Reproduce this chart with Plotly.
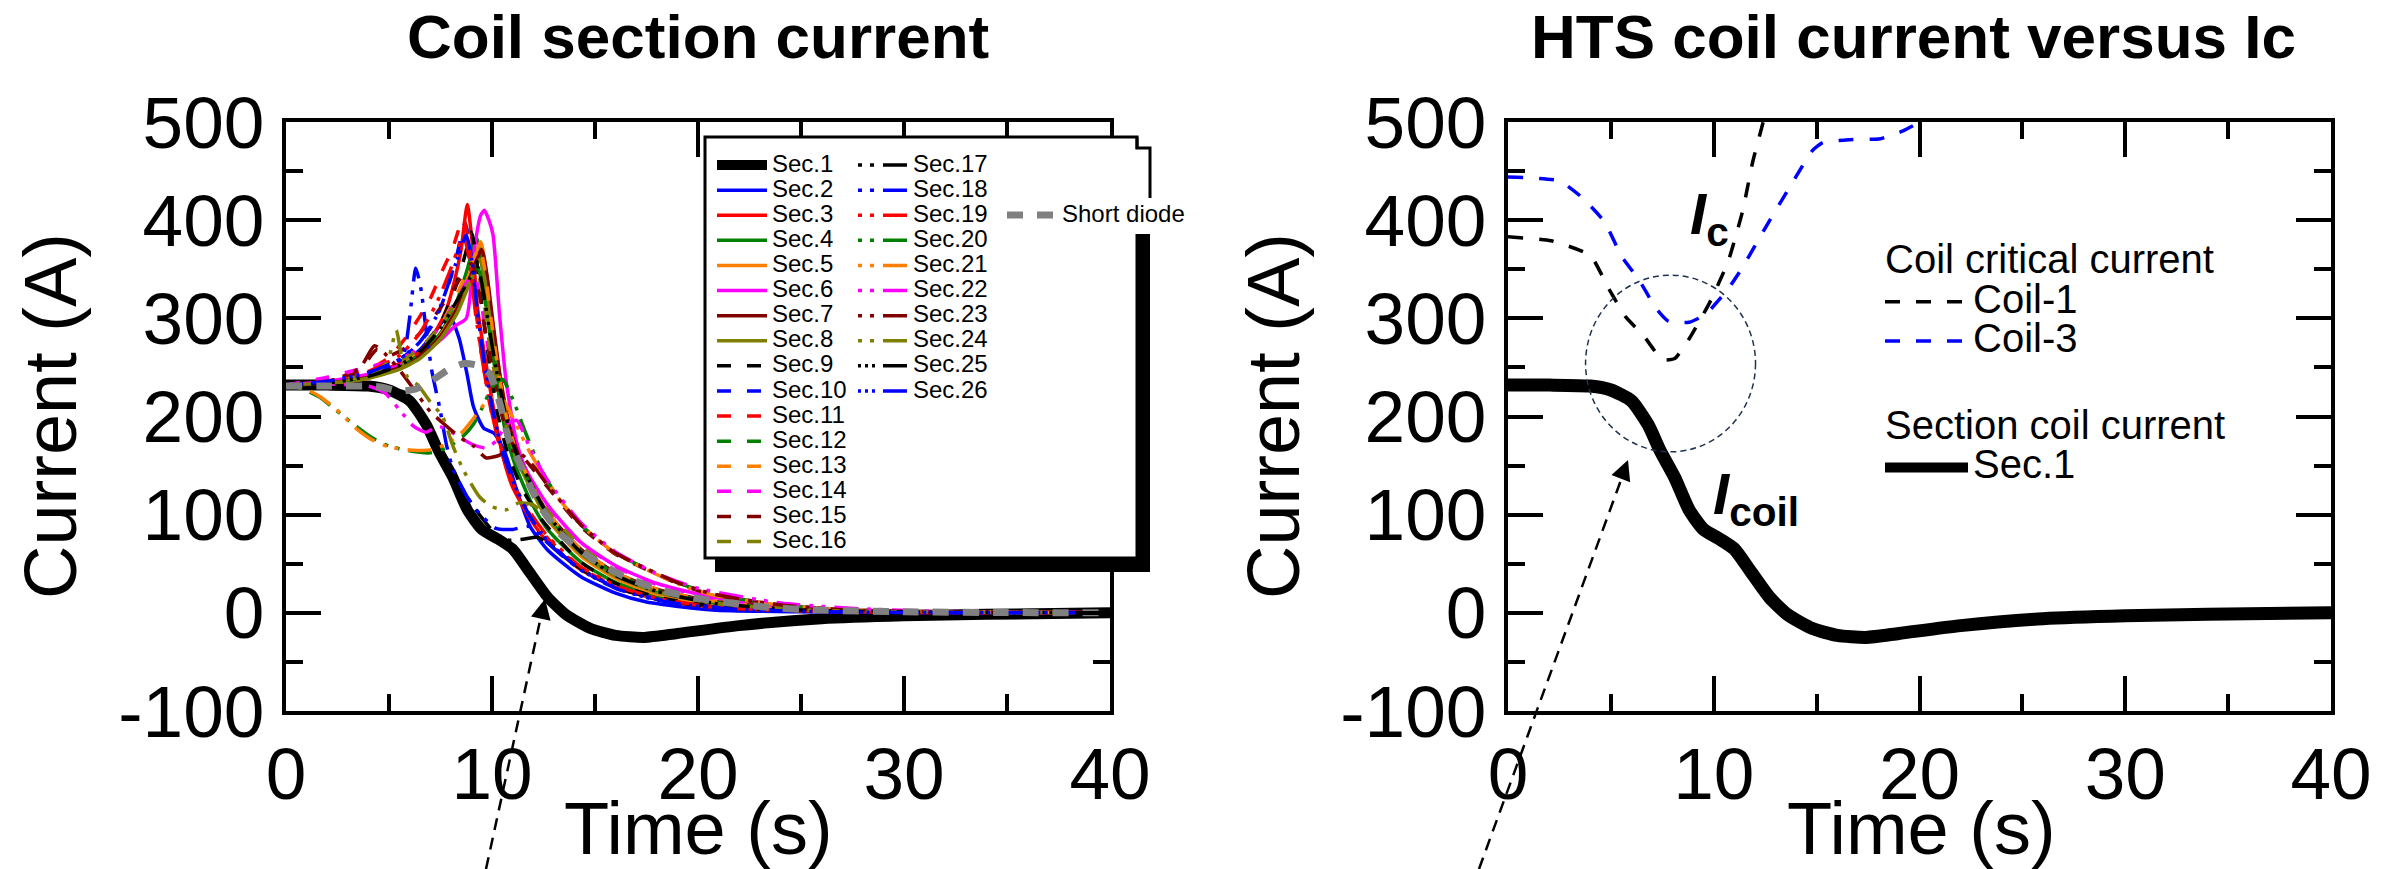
import plotly.graph_objects as go

FONT = "Liberation Sans, Arial, sans-serif"
W, H = 2400, 869

# ---------------- data (time in s, current in A) ----------------
SEC1_T = [0, 2, 4, 5, 6, 6.8, 7.4, 8.1, 8.8, 9.5, 10.3, 11.0, 11.8, 12.7, 13.6, 14.8, 16, 17.4, 19, 22, 26, 30, 34, 40]
SEC1_I = [232, 232, 231, 227, 216, 192, 165, 138, 105, 85, 75, 65, 42, 16, -2, -16, -23, -25, -21, -13, -6, -3, -1.5, 0]

SEC2_T = [0, 2, 4, 5.5, 6.5, 7.3, 7.9, 8.4, 8.8, 9.1, 9.6, 10.1, 10.6, 11.2, 11.85, 12.7, 14.3, 16, 17.5, 20.7, 25, 30, 40]
SEC2_I = [232, 234, 240, 252, 268, 288, 304, 280, 242, 210, 188, 183, 165, 125, 88, 64, 37, 20, 11, 3, 1, 0.3, 0]

SEC3_T = [0, 2, 4, 5.5, 6.5, 7.3, 7.8, 8.2, 8.5, 8.8, 9.05, 9.3, 9.7, 10.1, 10.5, 11, 11.85, 12.7, 14.3, 16, 18, 20.7, 25, 30, 40]
SEC3_I = [232, 235, 242, 254, 266, 288, 310, 340, 370, 416, 375, 310, 255, 205, 162, 128, 96, 72, 44, 26, 14, 6, 2, 0.6, 0]

SEC4_T = [0, 2, 4, 5.5, 6.5, 7.5, 8.3, 8.8, 9.25, 9.5, 9.8, 10.2, 10.6, 11.1, 11.85, 12.7, 14.3, 16, 18, 20.7, 25, 30, 40]
SEC4_I = [232, 234, 240, 250, 262, 285, 318, 350, 382, 355, 300, 240, 190, 152, 115, 85, 52, 31, 17, 8, 2.5, 0.8, 0]

SEC5_T = [0, 2, 4, 5.5, 6.5, 7.5, 8.3, 8.9, 9.45, 9.7, 10.0, 10.4, 10.8, 11.3, 12, 12.7, 14.3, 16, 18, 20.7, 25, 30, 40]
SEC5_I = [232, 234, 239, 249, 261, 283, 313, 345, 378, 350, 300, 240, 195, 158, 122, 95, 58, 35, 19, 9, 3, 1, 0]

SEC6_T = [0, 2, 4, 5.5, 6.5, 7.5, 8.2, 8.75, 9.15, 9.45, 9.63, 9.85, 10.05, 10.36, 10.68, 11.17, 11.65, 12.7, 14.3, 16, 18, 20.7, 24, 27, 32, 40]
SEC6_I = [232, 236, 243, 252, 262, 278, 292, 300, 372, 405, 410, 400, 385, 305, 237, 176, 146, 110, 72, 48, 30, 16, 7, 3, 1, 0]

SEC7_T = [0, 2, 4, 5.5, 6.5, 7.5, 8.3, 8.9, 9.5, 9.75, 10.05, 10.4, 10.8, 11.3, 12, 12.7, 14.3, 16, 18, 20.7, 25, 30, 40]
SEC7_I = [232, 234, 240, 250, 262, 282, 310, 340, 370, 345, 295, 240, 195, 160, 128, 102, 65, 41, 24, 12, 4, 1.2, 0]

SEC8_T = [0, 2, 4, 5.5, 6.5, 7.5, 8.3, 8.9, 9.4, 9.65, 9.95, 10.3, 10.7, 11.2, 12, 12.7, 14.3, 16, 18, 20.7, 25, 30, 40]
SEC8_I = [232, 234, 239, 248, 259, 279, 305, 335, 360, 340, 290, 238, 192, 156, 122, 96, 60, 37, 21, 10, 3, 1, 0]

SEC9_T = [0, 2, 4, 5.5, 6.5, 7.5, 8.2, 8.7, 9.0, 9.25, 9.55, 9.9, 10.3, 10.8, 11.5, 12.3, 13, 14.3, 16, 18, 20.7, 25, 30, 40]
SEC9_I = [232, 235, 242, 254, 268, 295, 330, 365, 388, 360, 305, 250, 200, 160, 125, 98, 80, 52, 30, 16, 7, 2, 0.6, 0]

SEC10_T = [0, 2, 4, 5.5, 6.5, 7.3, 7.9, 8.3, 8.7, 8.95, 9.25, 9.6, 10, 10.5, 11.1, 11.85, 12.7, 14.3, 16, 18, 20.7, 25, 30, 40]
SEC10_I = [232, 236, 245, 258, 275, 300, 335, 365, 397, 370, 310, 255, 205, 162, 128, 98, 74, 45, 26, 14, 6, 2, 0.5, 0]

SEC11_T = [0, 2, 4, 5, 5.8, 6.5, 7, 7.6, 8.1, 8.6, 8.85, 9.15, 9.5, 9.9, 10.4, 11, 11.85, 12.7, 14.3, 16, 18, 20.7, 25, 30, 40]
SEC11_I = [232, 237, 248, 260, 280, 302, 320, 349, 372, 402, 380, 320, 262, 212, 168, 132, 100, 76, 46, 27, 14, 6, 2, 0.5, 0]

SEC12_T = [0, 2, 4, 5.5, 6.5, 7.5, 8.3, 8.9, 9.3, 9.6, 9.95, 10.3, 10.7, 11.2, 12, 12.7, 14.3, 16, 18, 20.7, 25, 30, 40]
SEC12_I = [232, 234, 241, 252, 265, 288, 318, 340, 352, 325, 280, 235, 195, 160, 125, 100, 63, 40, 23, 11, 3.5, 1, 0]

SEC13_T = [0, 2, 4, 5.5, 6.5, 7.5, 8.3, 8.9, 9.4, 9.65, 9.95, 10.3, 10.7, 11.2, 12, 12.7, 14.3, 16, 18, 20.7, 25, 30, 40]
SEC13_I = [232, 235, 242, 254, 268, 293, 325, 352, 372, 350, 300, 248, 200, 163, 128, 102, 65, 41, 24, 12, 4, 1.2, 0]

SEC14_T = [0, 2, 3.5, 4.5, 5.5, 6.5, 7.5, 8.3, 9.1, 9.4, 9.75, 10.1, 10.6, 11.1, 11.85, 12.7, 14.3, 16, 18, 20.7, 24, 27, 32, 40]
SEC14_I = [232, 240, 248, 253, 258, 270, 292, 320, 345, 325, 278, 235, 195, 162, 130, 108, 72, 47, 29, 15, 7, 3, 1, 0]

SEC15_T = [0, 2, 3.5, 4.4, 5, 5.8, 6.5, 7.3, 8.2, 9.0, 9.3, 9.7, 10.1, 10.5, 11, 11.85, 12.7, 14.3, 15.9, 17.5, 19.1, 20.75, 24, 27.2, 32, 40]
SEC15_I = [232, 236, 245, 268, 262, 270, 285, 305, 332, 356, 335, 285, 240, 200, 172, 150, 128, 88, 61, 44, 29, 18, 8, 3, 1, 0]

SEC16_T = [0, 2, 4, 5.5, 6.5, 7.5, 8.3, 8.9, 9.3, 9.6, 9.9, 10.3, 10.7, 11.2, 12, 12.7, 14.3, 16, 18, 20.7, 25, 30, 40]
SEC16_I = [232, 235, 243, 255, 270, 292, 318, 336, 345, 318, 270, 225, 188, 158, 126, 104, 68, 43, 26, 13, 4, 1.2, 0]

SEC17_T = [0, 2, 4, 5, 5.8, 6.5, 7.2, 8, 8.8, 9.5, 10.2, 10.8, 11.5, 12.2, 12.8, 13.5, 14.3, 16, 18, 20.7, 25, 30, 40]
SEC17_I = [232, 232, 232, 229, 224, 208, 180, 148, 118, 97, 80, 74, 75, 77, 70, 58, 45, 26, 14, 6, 2, 0.5, 0]

SEC18_T = [0, 2, 4, 5.2, 5.7, 6.0, 6.3, 6.55, 6.8, 7.1, 7.45, 7.8, 8.1, 8.8, 9.4, 10.2, 11, 11.8, 12.5, 13.3, 14.3, 16, 18, 20.7, 25, 30, 40]
SEC18_I = [232, 235, 242, 252, 262, 300, 351, 330, 288, 244, 210, 170, 147, 118, 101, 86, 85, 88, 75, 60, 44, 26, 14, 6, 2, 0.5, 0]

SEC19_T = [0, 2, 4, 5.5, 6.5, 7.3, 7.9, 8.3, 8.6, 8.9, 9.2, 9.55, 9.95, 10.4, 11, 11.85, 12.7, 14.3, 16, 18, 20.7, 25, 30, 40]
SEC19_I = [232, 236, 246, 262, 285, 315, 345, 368, 385, 360, 305, 255, 208, 168, 133, 102, 78, 47, 28, 15, 6, 2, 0.5, 0]

SEC20_T = [0, 0.8, 1.6, 2.4, 3.4, 4.2, 5, 6, 7, 7.8, 8.6, 9.1, 9.6, 10.0, 10.5, 11.0, 11.6, 12.3, 13, 14.3, 15.9, 17.5, 19.1, 20.75, 24, 27.2, 32, 40]
SEC20_I = [232, 228, 220, 207, 190, 178, 170, 165, 163, 168, 180, 192, 212, 230, 238, 218, 185, 150, 124, 90, 62, 45, 30, 19, 8, 3, 1, 0]

SEC21_T = [0, 0.8, 1.6, 2.4, 3.4, 4.2, 5, 6, 7, 7.8, 8.6, 9.1, 9.6, 10.1, 10.6, 11.1, 11.8, 12.5, 13.3, 14.3, 15.9, 17.5, 19.1, 20.75, 24, 27.2, 32, 40]
SEC21_I = [232, 229, 221, 208, 188, 176, 169, 166, 166, 172, 185, 198, 212, 222, 215, 195, 165, 140, 115, 90, 62, 44, 29, 18, 8, 3, 1, 0]

SEC22_T = [0, 2, 4, 4.8, 5.5, 6.2, 6.8, 7.4, 8.2, 9, 9.7, 10.2, 10.7, 11.2, 11.8, 12.6, 14.3, 16, 18, 20, 24, 28, 33, 40]
SEC22_I = [232, 233, 231, 224, 207, 190, 184, 190, 182, 172, 168, 175, 192, 196, 170, 138, 92, 62, 40, 25, 10, 4, 1, 0]

SEC23_T = [0, 2, 3.6, 4.3, 4.9, 5.6, 6.3, 7, 7.8, 8.5, 9.1, 9.7, 10.3, 10.8, 11.4, 12, 12.7, 14.3, 15.9, 17.5, 19.1, 20.75, 24, 27.2, 32, 40]
SEC23_I = [232, 235, 250, 272, 262, 245, 225, 205, 190, 178, 170, 158, 160, 166, 162, 150, 130, 90, 62, 45, 30, 19, 8, 3, 1, 0]

SEC24_T = [0, 2, 4, 4.9, 5.35, 5.6, 5.9, 6.4, 7, 7.6, 8.1, 8.6, 9.4, 10, 10.7, 11.3, 12, 12.7, 14.3, 16, 18, 20.7, 25, 30, 40]
SEC24_I = [232, 234, 240, 255, 288, 262, 240, 232, 215, 200, 170, 146, 118, 108, 105, 112, 110, 96, 62, 39, 22, 10, 3, 1, 0]

SEC25_T = [0, 2, 4, 5.5, 6.5, 7.5, 8.3, 8.9, 9.3, 9.55, 9.9, 10.3, 10.7, 11.2, 12, 12.7, 14.3, 16, 18, 20.7, 25, 30, 40]
SEC25_I = [232, 234, 241, 252, 266, 290, 318, 340, 352, 330, 285, 238, 198, 162, 127, 100, 62, 38, 22, 10, 3, 1, 0]

SEC26_T = [0, 2, 4, 5.5, 6.5, 7.3, 7.9, 8.4, 8.75, 9.0, 9.3, 9.65, 10.05, 10.5, 11.1, 11.85, 12.7, 14.3, 16, 18, 20.7, 25, 30, 40]
SEC26_I = [232, 236, 245, 258, 276, 302, 336, 365, 385, 362, 305, 252, 205, 165, 130, 98, 73, 44, 25, 13, 5, 1.5, 0.4, 0]

DIODE_T = [0, 2, 4, 4.6, 5.5, 6.3, 7.1, 7.9, 8.66, 9.3, 9.87, 10.4, 10.8, 11.5, 12.3, 13.3, 14.8, 16.4, 18.2, 19.9, 23.2, 25.6, 30, 35, 40]
DIODE_I = [231, 231, 231, 230, 226, 228, 237, 248, 254, 252, 244, 212, 178, 145, 110, 81, 56, 37, 23, 15, 6, 3, 1, 0.3, 0]

# ---------------- right panel: critical currents ----------------
COIL1_T = [0, 2.1, 4.0, 4.9, 5.7, 6.6, 7.5, 8.1, 8.8, 9.8, 10.7, 11.4, 11.9, 12.4, 12.6]
COIL1_I = [383, 379, 364, 330, 302, 282, 258, 259, 279, 316, 358, 409, 460, 500, 520]

COIL3_T = [0, 2.5, 3.6, 4.7, 5.5, 6.4, 7.2, 7.8, 8.8, 9.6, 10.7, 11.4, 12.5, 13.7, 14.8, 15.3, 16.6, 18.1, 19.2, 20.0, 20.3]
COIL3_I = [444, 440, 423, 398, 364, 338, 310, 297, 296, 304, 330, 352, 392, 434, 471, 479, 482, 483, 491, 500, 505]

# ---------------- tick labels ----------------
X_TICKS = [0, 10, 20, 30, 40]
Y_TICKS = [-100, 0, 100, 200, 300, 400, 500]
Y_TICKTEXT = ["-100", "0", "100", "200", "300", "400", "500"]

# ---------------- styles ----------------
BLACK, BLUE, RED, GREEN = "#000000", "#0000FF", "#FF0000", "#008000"
ORANGE, MAGENTA, DARKRED, OLIVE, GRAY = "#FF8000", "#FF00FF", "#800000", "#808000", "#808080"
CYCLE = [BLACK, BLUE, RED, GREEN, ORANGE, MAGENTA, DARKRED, OLIVE]
DASHED = "14px,16px"
DDASH = "4px,8px,4px,9px,24px,9px"
DDDASH = "3px,4px,3px,4px,3px,8px,24px,8px"

SECTIONS = [
    (1, SEC1_T, SEC1_I), (2, SEC2_T, SEC2_I), (3, SEC3_T, SEC3_I), (4, SEC4_T, SEC4_I),
    (5, SEC5_T, SEC5_I), (6, SEC6_T, SEC6_I), (7, SEC7_T, SEC7_I), (8, SEC8_T, SEC8_I),
    (9, SEC9_T, SEC9_I), (10, SEC10_T, SEC10_I), (11, SEC11_T, SEC11_I), (12, SEC12_T, SEC12_I),
    (13, SEC13_T, SEC13_I), (14, SEC14_T, SEC14_I), (15, SEC15_T, SEC15_I), (16, SEC16_T, SEC16_I),
    (17, SEC17_T, SEC17_I), (18, SEC18_T, SEC18_I), (19, SEC19_T, SEC19_I), (20, SEC20_T, SEC20_I),
    (21, SEC21_T, SEC21_I), (22, SEC22_T, SEC22_I), (23, SEC23_T, SEC23_I), (24, SEC24_T, SEC24_I),
    (25, SEC25_T, SEC25_I), (26, SEC26_T, SEC26_I),
]


def sec_style(n):
    if n == 1:
        return BLACK, "solid", 11
    if n <= 8:
        return CYCLE[n - 1], "solid", 3.5
    if n <= 16:
        return CYCLE[n - 9], DASHED, 3.5
    if n <= 24:
        return CYCLE[n - 17], DDASH, 3.5
    return (BLACK if n == 25 else BLUE), DDDASH, 3.5


def lname(txt, size):
    return f"<span style='font-size:{size}px'>{txt}</span>"


fig = go.Figure()

for n, tt, ii in SECTIONS:
    color, dash, width = sec_style(n)
    fig.add_trace(go.Scatter(
        x=tt, y=ii, mode="lines", name=lname(f"Sec.{n}", 24),
        line=dict(color=color, dash=dash, width=width, shape="spline", smoothing=0.6),
        legend="legend" if n <= 16 else "legend2",
        xaxis="x", yaxis="y", hoverinfo="skip"))

fig.add_trace(go.Scatter(
    x=DIODE_T, y=DIODE_I, mode="lines", name=lname("Short diode", 24),
    line=dict(color=GRAY, dash="16px,14px", width=7, shape="spline", smoothing=0.6),
    legend="legend3", xaxis="x", yaxis="y", hoverinfo="skip"))

# right panel
fig.add_trace(go.Scatter(
    x=COIL1_T, y=COIL1_I, mode="lines", name=lname("Coil-1", 40),
    line=dict(color=BLACK, dash="15px,16px", width=3.5, shape="spline", smoothing=0.5),
    legend="legend4", legendgroup="ic",
    legendgrouptitle=dict(text=lname("Coil critical current", 40), font=dict(size=30, family=FONT, color="black")),
    xaxis="x2", yaxis="y2", hoverinfo="skip"))
fig.add_trace(go.Scatter(
    x=COIL3_T, y=COIL3_I, mode="lines", name=lname("Coil-3", 40),
    line=dict(color=BLUE, dash="15px,16px", width=3.5, shape="spline", smoothing=0.5),
    legend="legend4", legendgroup="ic",
    xaxis="x2", yaxis="y2", hoverinfo="skip"))
fig.add_trace(go.Scatter(
    x=SEC1_T, y=SEC1_I, mode="lines", name=lname("Sec.1", 40),
    line=dict(color=BLACK, width=13, shape="spline", smoothing=0.6),
    legend="legend4", legendgroup="coil",
    legendgrouptitle=dict(text=lname("Section coil current", 40), font=dict(size=30, family=FONT, color="black")),
    xaxis="x2", yaxis="y2", hoverinfo="skip"))

YD = [1 - 711 / H, 1 - 122 / H]


def xax(domain, anchor):
    return dict(domain=domain, anchor=anchor, range=[0, 40], tickmode="array", tickvals=X_TICKS,
                ticks="inside", ticklen=35, tickwidth=4, tickcolor="black",
                showline=True, linewidth=4, linecolor="black", mirror="ticks",
                showgrid=False, zeroline=False, automargin=False, ticklabelstandoff=-4,
                tickfont=dict(family=FONT, size=73, color="black"),
                minor=dict(tickmode="linear", tick0=0, dtick=5, ticks="inside", ticklen=17, tickwidth=4, tickcolor="black", showgrid=False))


def yax(anchor):
    return dict(domain=YD, anchor=anchor, range=[-100, 500], tickmode="array", tickvals=Y_TICKS, ticktext=Y_TICKTEXT,
                ticks="inside", ticklen=35, tickwidth=4, tickcolor="black",
                showline=True, linewidth=4, linecolor="black", mirror="ticks",
                showgrid=False, zeroline=False, automargin=False, ticklabelstandoff=3,
                tickfont=dict(family=FONT, size=73, color="black"),
                minor=dict(tickmode="linear", tick0=-100, dtick=50, ticks="inside", ticklen=17, tickwidth=4, tickcolor="black", showgrid=False))


def px(x):
    return x / W


def py(y):
    return 1 - y / H


leg_common = dict(bgcolor="rgba(0,0,0,0)", borderwidth=0, xanchor="left", yanchor="top",
                  traceorder="normal", font=dict(family=FONT, size=17, color="black"), itemwidth=50,
                  tracegroupgap=0)

shapes = [
    # legend frame (left panel)
    dict(type="rect", xref="paper", yref="paper", x0=px(705), x1=px(1137), y0=py(558), y1=py(137),
         fillcolor="white", line=dict(color="black", width=3), layer="above"),
    dict(type="rect", xref="paper", yref="paper", x0=px(1134), x1=px(1150), y0=py(232), y1=py(149),
         fillcolor="white", line=dict(width=0), layer="above"),
    dict(type="path", xref="paper", yref="paper",
         path=f"M{px(1137)},{py(137)} L{px(1137)},{py(148)} L{px(1150)},{py(148)} L{px(1150)},{py(232)}",
         line=dict(color="black", width=3), layer="above"),
    dict(type="rect", xref="paper", yref="paper", x0=px(715), x1=px(1150), y0=py(572), y1=py(557),
         fillcolor="black", line=dict(width=0), layer="above"),
    dict(type="rect", xref="paper", yref="paper", x0=px(1136), x1=px(1150), y0=py(572), y1=py(230),
         fillcolor="black", line=dict(width=0), layer="above"),
    # dashed circle on right panel
    dict(type="circle", xref="x2", yref="y2", x0=3.77, x1=12.03, y0=164, y1=344,
         line=dict(color="#1F3350", width=1.5, dash="6px,4px"), layer="above"),
    # dashed pointer lines
    dict(type="line", xref="paper", yref="paper", x0=px(486), y0=py(869), x1=px(543), y1=py(607),
         line=dict(color="black", width=2.5, dash="12px,8px"), layer="above"),
    dict(type="line", xref="paper", yref="paper", x0=px(1479), y0=py(869), x1=px(1625), y1=py(469),
         line=dict(color="black", width=2.5, dash="12px,8px"), layer="above"),
]

annotations = [
    dict(text="<b>Coil section current</b>", x=px(698), y=py(37), xref="paper", yref="paper",
         xanchor="center", yanchor="middle", showarrow=False, font=dict(family=FONT, size=62, color="black")),
    dict(text="<b>HTS coil current versus Ic</b>", x=px(1913), y=py(37), xref="paper", yref="paper",
         xanchor="center", yanchor="middle", showarrow=False, font=dict(family=FONT, size=62, color="black")),
    dict(text="Time (s)", x=px(698), y=py(828), xref="paper", yref="paper",
         xanchor="center", yanchor="middle", showarrow=False, font=dict(family=FONT, size=74, color="black")),
    dict(text="Time (s)", x=px(1921), y=py(828), xref="paper", yref="paper",
         xanchor="center", yanchor="middle", showarrow=False, font=dict(family=FONT, size=74, color="black")),
    dict(text="Current (A)", x=px(50), y=py(416), xref="paper", yref="paper", textangle=-90,
         xanchor="center", yanchor="middle", showarrow=False, font=dict(family=FONT, size=74, color="black")),
    dict(text="Current (A)", x=px(1273), y=py(416), xref="paper", yref="paper", textangle=-90,
         xanchor="center", yanchor="middle", showarrow=False, font=dict(family=FONT, size=74, color="black")),
    dict(text="<b><i>I</i><sub>c</sub></b>", x=8.75, y=442, xref="x2", yref="y2",
         xanchor="left", yanchor="top", showarrow=False, font=dict(family=FONT, size=58, color="black")),
    dict(text="<b><i>I</i><sub>coil</sub></b>", x=9.87, y=157, xref="x2", yref="y2",
         xanchor="left", yanchor="top", showarrow=False, font=dict(family=FONT, size=58, color="black")),
    # arrow heads
    dict(text="", x=px(545), y=py(599), xref="paper", yref="paper", showarrow=True,
         ax=-3, ay=14, arrowhead=2, arrowsize=1.6, arrowwidth=2.5, arrowcolor="black"),
    dict(text="", x=px(1628), y=py(460), xref="paper", yref="paper", showarrow=True,
         ax=-5, ay=13, arrowhead=2, arrowsize=1.6, arrowwidth=2.5, arrowcolor="black"),
]

fig.update_layout(
    width=W, height=H, margin=dict(l=0, r=0, t=0, b=0, autoexpand=False),
    paper_bgcolor="white", plot_bgcolor="white",
    font=dict(family=FONT, color="black"),
    xaxis=xax([286 / W, 1110 / W], "y"), yaxis=yax("x"),
    xaxis2=xax([1508 / W, 2331 / W], "y2"), yaxis2=yax("x2"),
    legend=dict(leg_common, x=px(712), y=py(147.5)),
    legend2=dict(leg_common, x=px(853), y=py(147.5)),
    legend3=dict(leg_common, x=px(1002), y=py(197.5), bgcolor="white"),
    legend4=dict(bgcolor="rgba(0,0,0,0)", borderwidth=0, xanchor="left", yanchor="top",
                 x=px(1880), y=py(235), font=dict(family=FONT, size=28, color="black"),
                 itemwidth=83, tracegroupgap=45, traceorder="grouped",
                 grouptitlefont=dict(family=FONT, size=30, color="black")),
    shapes=shapes, annotations=annotations,
    showlegend=True,
)

fig.write_html("out.html", config={"displayModeBar": False})
